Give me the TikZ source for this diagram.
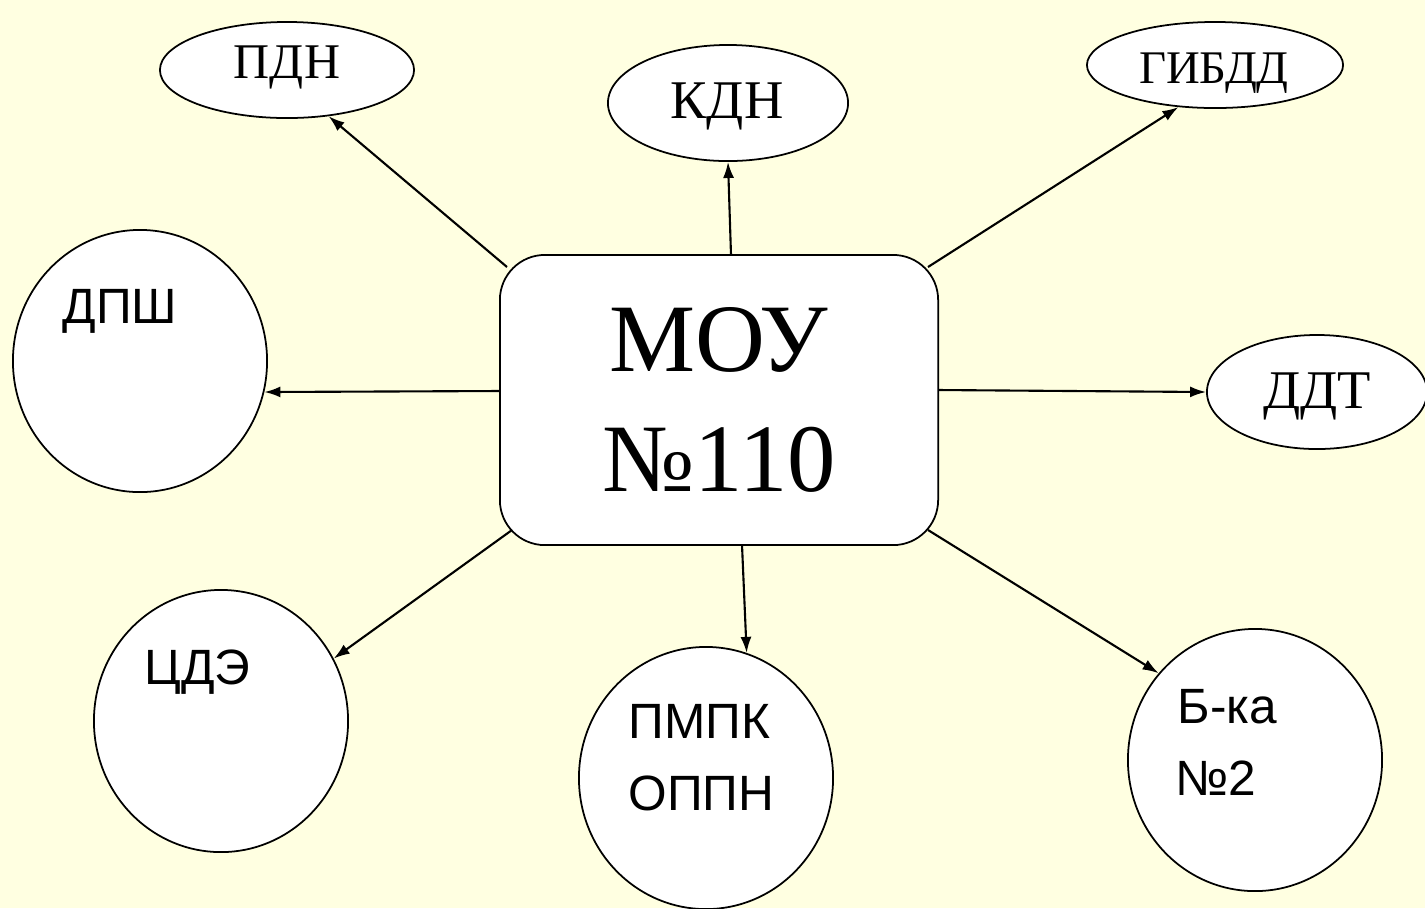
\documentclass[tikz,border=0pt]{standalone}
\usepackage{fontspec}
\setmainfont{Liberation Serif}
\newfontfamily\sansf{Liberation Sans}
\usetikzlibrary{arrows.meta,shapes.geometric}
\definecolor{bg}{HTML}{FFFFE1}
\tikzset{
  oval/.style={ellipse,draw=black,line width=0.5pt,fill=white,inner sep=0pt},
  rnd/.style={ellipse,draw=black,line width=0.5pt,fill=white,inner sep=0pt,minimum width=2.54cm,minimum height=2.62cm},
  hub/.style={rectangle,draw=black,line width=0.5pt,fill=white,rounded corners=0.45cm,minimum width=4.38cm,minimum height=2.90cm,align=center,inner sep=0pt,font=\fontsize{27.5pt}{34pt}\selectfont},
  lbl/.style={anchor=base,inner sep=0pt},
  slbl/.style={anchor=base west,inner sep=0pt,font=\sansf\fontsize{14.1pt}{17pt}\selectfont},
  arr/.style={draw=black,line width=0.6pt,-{Latex[length=1.6mm,width=1.1mm]}}
}
\begin{document}
\begin{tikzpicture}[x=0.01cm,y=-0.01cm]
\useasboundingbox[fill=bg] (0,0) rectangle (1425,908);
% center
\node[hub] (moy) at (719,400) {МОУ\\№110};
% ellipses
\node[oval,minimum width=2.54cm,minimum height=0.96cm] (pdn) at (287,70) {};
\node[lbl,font=\fontsize{14.2pt}{17pt}\selectfont] (pdnt) at (287,78) {ПДН};
\node[oval,minimum width=2.40cm,minimum height=1.16cm] (kdn) at (728,103) {};
\node[lbl,font=\fontsize{15.5pt}{18pt}\selectfont] (kdnt) at (727,118) {КДН};
\node[oval,minimum width=2.56cm,minimum height=0.86cm] (gibdd) at (1215,65) {};
\node[lbl,font=\fontsize{13.3pt}{16pt}\selectfont] (gibddt) at (1214,83) {ГИБДД};
\node[oval,minimum width=2.20cm,minimum height=1.14cm] (ddt) at (1317,392) {};
\node[lbl,font=\fontsize{15.5pt}{18pt}\selectfont] (ddtt) at (1317,408) {ДДТ};
% circles
\node[rnd] (dpsh) at (140,361) {};
\node[slbl] (dpsht) at (62,323) {ДПШ};
\node[rnd] (cde) at (221,721) {};
\node[slbl] (cdet) at (144,684) {ЦДЭ};
\node[rnd] (pmpk) at (706,778) {};
\node[slbl] (pmpkt1) at (628,738) {ПМПК};
\node[slbl] (pmpkt2) at (628,810) {ОППН};
\node[rnd] (bka) at (1255,760) {};
\node[slbl] (bkat1) at (1177,723) {Б-ка};
\node[slbl] (bkat2) at (1175,795) {№2};
% start points on the hub
\coordinate (s1) at (507,267);
\coordinate (s2) at (731,255);
\coordinate (s3) at (928,267);
\coordinate (s4) at (500,391);
\coordinate (s5) at (938,390);
\coordinate (s6) at (512,530);
\coordinate (s7) at (742,545);
\coordinate (s8) at (928,530);
% connectors
\draw[arr] (s1) -- (pdn.-48);
\draw[arr] (s2) -- (kdn.south);
\draw[arr] (s3) -- (gibdd.-131);
\draw[arr] (s4) -- (dpsh.-14);
\draw[arr] (s5) -- (ddt.west);
\draw[arr] (s6) -- (cde.29);
\draw[arr] (s7) -- (pmpk.72);
\draw[arr] (s8) -- (bka.138);
\end{tikzpicture}
\end{document}
